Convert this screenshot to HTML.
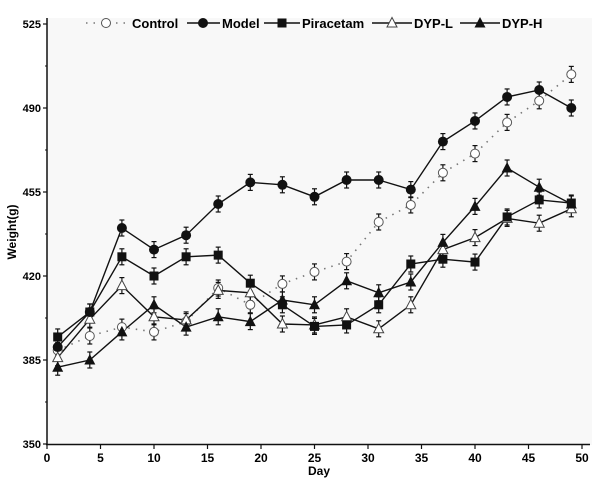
<!DOCTYPE html>
<html><head><meta charset="utf-8"><style>
html,body{margin:0;padding:0;background:#fff;}
svg{display:block;font-family:"Liberation Sans",Arial,sans-serif;font-weight:bold;}
</style></head><body>
<svg id="c" width="600" height="486" viewBox="0 0 600 486" xmlns="http://www.w3.org/2000/svg">
<rect x="47" y="18" width="545" height="427" fill="#f8f8f8"/>
<g id="g"></g>
</svg>
<script>
var NS="http://www.w3.org/2000/svg",g=document.getElementById("g");
function el(t,a,txt){var e=document.createElementNS(NS,t);for(var k in a)e.setAttribute(k,a[k]);if(txt!=null)e.textContent=txt;g.appendChild(e);return e;}
function X(d){return 47+d*10.7;}
function Y(v){return 444-(v-350)*2.4;}
// axes
el("line",{x1:47,y1:18,x2:47,y2:445,stroke:"#111","stroke-width":1.5});
el("line",{x1:46,y1:444.5,x2:590,y2:444.5,stroke:"#111","stroke-width":1.5});
[350,385,420,455,490,525].forEach(function(v){
 el("line",{x1:43,y1:Y(v),x2:47,y2:Y(v),stroke:"#111","stroke-width":1.2});
 el("text",{x:41,y:Y(v)+4,"text-anchor":"end","font-size":"11"},v);
});
[367.5,402.5,437.5,472.5,507.5].forEach(function(v){el("line",{x1:45,y1:Y(v),x2:47,y2:Y(v),stroke:"#111","stroke-width":1});});
for(var d=0;d<=50;d+=5){
 el("line",{x1:X(d),y1:444,x2:X(d),y2:449,stroke:"#111","stroke-width":1.2});
 el("text",{x:X(d),y:462,"text-anchor":"middle","font-size":"12"},d);
}
el("text",{x:319,y:475,"text-anchor":"middle","font-size":"12"},"Day");
el("text",{x:16,y:232,"text-anchor":"middle","font-size":"12",transform:"rotate(-90 16 232)"},"Weight(g)");
var days=[1,4,7,10,13,16,19,22,25,28,31,34,37,40,43,46,49];
var S={
control:[389,395,398.7,396.7,401,415,408,416.7,421.7,426,442.5,449.6,463,471,484,493,504],
model:[390.4,405,440,431,437,450,459,458,453,460,460,456,476,484.6,494.6,497.5,490],
pir:[394.6,405,428,420,428,428.7,417,408,399,399.6,408,425,427,425.8,444.6,451.7,450.4],
dypl:[386,402,416,403,401.7,414,413,400,399.6,403,398,408,431,436,444,442,448],
dyph:[382,385,396.7,408,398.7,403,401,410,408,418,413,417.5,434,449,465,457,450]
};
function line(arr,dash){var p=days.map(function(d,i){return X(d)+","+Y(arr[i]);}).join(" ");
 var a={points:p,fill:"none",stroke:dash?"#777":"#111","stroke-width":dash?1.6:1.4};if(dash)a["stroke-dasharray"]="1.5 6";el("polyline",a);}
function err(arr){days.forEach(function(d,i){var x=X(d),y=Y(arr[i]);el("line",{x1:x,y1:y-8,x2:x,y2:y+8,stroke:"#111","stroke-width":1.2});el("line",{x1:x-2.5,y1:y-8,x2:x+2.5,y2:y-8,stroke:"#111","stroke-width":1.2});el("line",{x1:x-2.5,y1:y+8,x2:x+2.5,y2:y+8,stroke:"#111","stroke-width":1.2});});}
function mark(type,x,y){
 if(type=="oc")el("circle",{cx:x,cy:y,r:4.5,fill:"#fff",stroke:"#555","stroke-width":1});
 if(type=="fc")el("circle",{cx:x,cy:y,r:5,fill:"#111"});
 if(type=="sq")el("rect",{x:x-4.5,y:y-4.5,width:9,height:9,fill:"#111"});
 if(type=="ot")el("polygon",{points:(x)+","+(y-5.5)+" "+(x-5)+","+(y+4)+" "+(x+5)+","+(y+4),fill:"#fff",stroke:"#444","stroke-width":1});
 if(type=="ft")el("polygon",{points:(x)+","+(y-6)+" "+(x-5.5)+","+(y+4.5)+" "+(x+5.5)+","+(y+4.5),fill:"#111"});
}
var order=[["control","oc",1],["dypl","ot",0],["pir","sq",0],["dyph","ft",0],["model","fc",0]];
order.forEach(function(o){line(S[o[0]],o[2]);err(S[o[0]]);});
order.forEach(function(o){days.forEach(function(d,i){mark(o[1],X(d),Y(S[o[0]][i]));});});
// legend
var ly=23;
el("line",{x1:86,y1:ly,x2:128,y2:ly,stroke:"#777","stroke-width":1.6,"stroke-dasharray":"1.5 6"});
mark("oc",106,ly);el("text",{x:132,y:ly+5,"font-size":"13"},"Control");
el("line",{x1:187,y1:ly,x2:220,y2:ly,stroke:"#111","stroke-width":1.4});mark("fc",203,ly);
el("text",{x:222,y:ly+5,"font-size":"13"},"Model");
el("line",{x1:264,y1:ly,x2:300,y2:ly,stroke:"#111","stroke-width":1.4});mark("sq",282,ly);
el("text",{x:302,y:ly+5,"font-size":"13"},"Piracetam");
el("line",{x1:372,y1:ly,x2:412,y2:ly,stroke:"#111","stroke-width":1.4});mark("ot",392,ly);
el("text",{x:414,y:ly+5,"font-size":"13"},"DYP-L");
el("line",{x1:460,y1:ly,x2:500,y2:ly,stroke:"#111","stroke-width":1.4});mark("ft",480,ly);
el("text",{x:502,y:ly+5,"font-size":"13"},"DYP-H");
</script>
</body></html>
